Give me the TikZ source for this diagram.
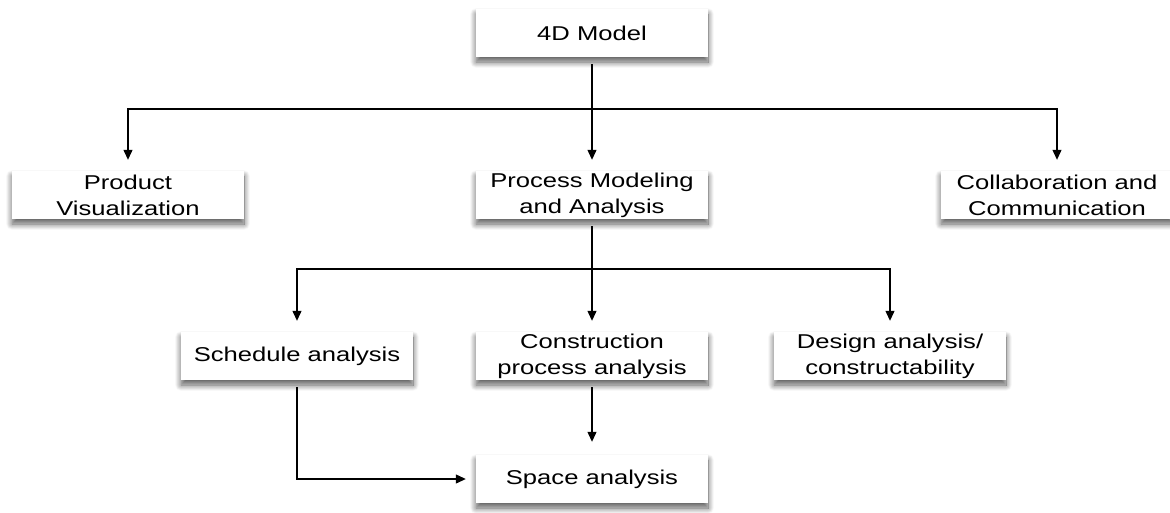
\documentclass[tikz,border=0pt]{standalone}
\usepackage{fontspec}
\setmainfont{Liberation Sans}[FakeStretch=1.28]
\usetikzlibrary{arrows.meta,shadows.blur}
\begin{document}
\begin{tikzpicture}[x=1pt,y=-1pt,
  box/.style={fill=white, minimum width=232pt, minimum height=48pt, inner sep=0pt,
    align=center, font=\fontsize{20}{26}\selectfont,
    blur shadow={shadow xshift=0pt, shadow yshift=-5pt, shadow blur radius=6pt, shadow blur steps=14, shadow opacity=65}},
  conn/.style={line width=1.2pt, black},
  arr/.style={conn, -{Triangle[length=10pt,width=9pt]}, shorten >=11pt}]
\useasboundingbox (0,0) rectangle (1170,512);
\node[box] (m4d) at (592,33) {4D Model};
\node[box] (prod) at (128,195) {Product\\Visualization};
\node[box] (proc) at (592,195) {Process Modeling\\and Analysis};
\node[box] (collab) at (1057,195) {Collaboration and\\Communication};
\node[box] (sched) at (297,356) {Schedule analysis};
\node[box] (cons) at (592,356) {Construction\\process analysis};
\node[box] (design) at (890,356) {Design analysis/\\constructability};
\node[box] (space) at (592,479) {Space analysis};
\coordinate (j1) at (592,109);
\coordinate (j2) at (592,269);
\draw[conn, shorten <=7pt] (m4d.south) -- (j1);
\draw[arr] (j1) -- (proc.north);
\draw[arr] (j1) -| (prod.north);
\draw[arr] (j1) -| (collab.north);
\draw[conn, shorten <=7pt] (proc.south) -- (j2);
\draw[arr] (j2) -- (cons.north);
\draw[arr] (j2) -| (sched.north);
\draw[arr] (j2) -| (design.north);
\draw[arr, shorten <=7pt, shorten >=10pt] (sched.south) |- (space.west);
\draw[arr, shorten <=7pt, shorten >=13pt] (cons.south) -- (space.north);
\end{tikzpicture}
\end{document}
